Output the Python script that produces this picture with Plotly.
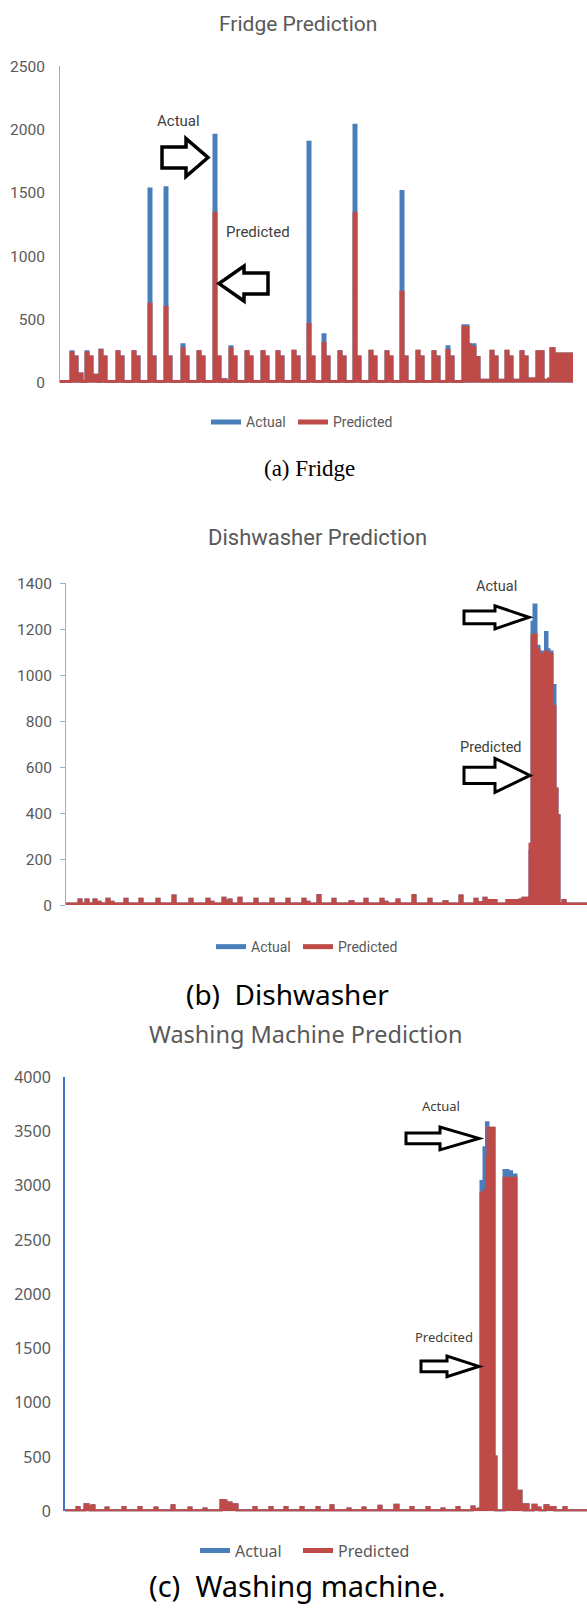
import plotly.graph_objects as go

W, H = 587, 1611

# ---------------- Fridge (x = time index, y = watts) ----------------
fridge_t = [60,
            71, 73, 77, 82, 86, 88, 92, 98,
            100, 102, 106, 117, 119, 123, 133, 135, 139,
            149, 151, 155, 165, 167, 171, 182, 184, 188,
            198, 200, 204, 214, 216, 220, 222, 226,
            230, 232, 236, 246, 248, 252, 262, 264, 268,
            277, 279, 283, 293, 295, 299, 308, 310, 314,
            323, 325, 329, 339, 341, 345, 354, 356, 360,
            370, 372, 376, 386, 388, 392, 401, 403, 407,
            417, 419, 423, 433, 435, 439, 447, 449, 453,
            463, 468, 470, 473, 475, 479,
            491, 493, 497, 506, 508, 512, 521, 523, 527,
            530, 537, 539, 541, 543, 549,
            551, 554, 573]
fridge_actual = [10,
                 245, 205, 70, 10, 245, 205, 60, 10,
                 260, 205, 10, 245, 205, 10, 245, 205, 10,
                 1530, 205, 10, 1540, 205, 10, 300, 205, 10,
                 245, 205, 10, 1955, 205, 10, 25, 10,
                 285, 205, 10, 245, 205, 10, 245, 205, 10,
                 245, 205, 10, 250, 205, 10, 1900, 205, 10,
                 380, 205, 10, 245, 205, 10, 2035, 205, 10,
                 250, 205, 10, 245, 205, 10, 1510, 205, 10,
                 250, 205, 10, 245, 205, 10, 285, 205, 10,
                 450, 300, 250, 300, 200, 20,
                 250, 205, 20, 250, 205, 20, 245, 205, 20,
                 30, 245, 40, 245, 20, 30,
                 270, 227, 227]
fridge_pred = [10,
               235, 205, 70, 10, 235, 205, 60, 10,
               255, 205, 10, 245, 205, 10, 245, 205, 10,
               620, 205, 10, 597, 205, 10, 270, 205, 10,
               245, 205, 10, 1340, 205, 10, 25, 10,
               270, 205, 10, 245, 205, 10, 245, 205, 10,
               245, 205, 10, 250, 205, 10, 460, 205, 10,
               310, 205, 10, 245, 205, 10, 1340, 205, 10,
               250, 205, 10, 245, 205, 10, 715, 205, 10,
               250, 205, 10, 245, 205, 10, 255, 205, 10,
               440, 300, 250, 280, 200, 20,
               250, 205, 20, 250, 205, 20, 245, 205, 20,
               30, 245, 40, 245, 20, 30,
               270, 227, 227]
fridge_ticks = [0, 500, 1000, 1500, 2000, 2500]

# ---------------- Dishwasher ----------------
dish_t = [66,
          79, 81, 86, 88, 94, 96, 100, 107, 109, 113, 125, 127, 140, 142, 157, 159, 173, 175, 190, 192,
          207, 209, 213, 223, 225, 229, 231, 239, 241, 255, 257, 271, 273, 287, 289, 303, 305, 309,
          318, 320, 333, 335, 350, 353, 365, 367, 381, 383, 387, 397, 399, 413, 415, 429, 431, 444, 447,
          460, 462, 475, 477, 484, 486, 491, 496, 507, 520, 523, 526, 528,
          530, 532, 534, 536, 539, 541.5, 544, 545.5, 547, 549, 552, 555, 557, 559, 563, 565, 587]
dish_actual = [5,
               22, 5, 22, 5, 22, 12, 5, 26, 12, 5, 26, 5, 26, 5, 26, 5, 40, 5, 26, 5,
               26, 12, 5, 30, 15, 22, 5, 30, 5, 26, 5, 26, 5, 26, 5, 26, 12, 5,
               42, 5, 26, 5, 15, 5, 26, 5, 26, 12, 5, 22, 5, 42, 5, 26, 5, 15, 5,
               40, 5, 26, 10, 30, 20, 20, 5, 20, 22, 30, 20, 30,
               235, 1230, 1305, 1125, 1100, 255, 1100, 1185, 1110, 1100, 955, 505, 390, 5, 20, 5, 5]
dish_pred = [5,
             22, 5, 22, 5, 22, 12, 5, 26, 12, 5, 26, 5, 26, 5, 26, 5, 40, 5, 26, 5,
             26, 12, 5, 30, 15, 22, 5, 30, 5, 26, 5, 26, 5, 26, 5, 26, 12, 5,
             42, 5, 26, 5, 15, 5, 26, 5, 26, 12, 5, 22, 5, 42, 5, 26, 5, 15, 5,
             40, 5, 26, 10, 30, 20, 20, 5, 20, 22, 30, 20, 30,
             265, 1170, 1175, 1110, 1090, 265, 1080, 1100, 1095, 1090, 865, 505, 390, 5, 20, 5, 5]
dish_ticks = [0, 200, 400, 600, 800, 1000, 1200, 1400]

# ---------------- Washing machine ----------------
wash_t = [65,
          77, 79, 85, 88, 90, 92, 94, 106, 108, 123, 125, 139, 141, 155, 157, 172, 174, 189, 191, 204, 206,
          221, 224, 226, 229, 231, 234, 237, 254, 256, 270, 272, 285, 287, 301, 303, 317, 319, 331, 333,
          348, 350, 363, 365, 379, 381, 395, 398, 411, 413, 427, 429, 442, 444, 457, 459, 472, 474, 479,
          481, 484, 486.5, 488, 494, 496, 504, 508, 509, 511.5, 516, 521, 524, 526, 528, 533, 536, 540,
          545, 548, 552, 555, 564, 566, 587]
wash_actual = [5,
               35, 5, 60, 40, 5, 50, 5, 30, 5, 35, 5, 35, 5, 30, 5, 50, 5, 30, 5, 20, 5,
               100, 95, 40, 75, 40, 60, 5, 35, 5, 35, 5, 35, 5, 35, 5, 35, 5, 50, 5,
               20, 5, 30, 5, 45, 5, 55, 5, 35, 5, 35, 5, 20, 5, 35, 5, 40, 15, 20,
               3040, 3350, 3580, 3530, 500, 5, 3140, 2900, 3130, 3100, 185, 60, 5, 60, 5, 55, 30, 5,
               50, 30, 35, 5, 35, 5, 5]
wash_pred = [5,
             35, 5, 60, 40, 5, 50, 5, 30, 5, 35, 5, 35, 5, 30, 5, 50, 5, 30, 5, 20, 5,
             100, 95, 40, 75, 40, 60, 5, 35, 5, 35, 5, 35, 5, 35, 5, 35, 5, 50, 5,
             20, 5, 30, 5, 45, 5, 55, 5, 35, 5, 35, 5, 20, 5, 35, 5, 40, 15, 20,
             2930, 2950, 3250, 3530, 500, 5, 3070, 3070, 3070, 3070, 185, 60, 5, 60, 5, 55, 30, 5,
             50, 30, 35, 5, 35, 5, 5]
wash_ticks = [0, 500, 1000, 1500, 2000, 2500, 3000, 3500, 4000]

series_names = ["Actual", "Predicted"]

assert len(fridge_t) == len(fridge_actual) == len(fridge_pred)
assert len(dish_t) == len(dish_actual) == len(dish_pred)
assert len(wash_t) == len(wash_actual) == len(wash_pred)

BLUE = "#4a7ebb"
RED = "#be4b48"
GREY = "#595959"
COND = "Roboto, Lato, sans-serif"
SANS = "Noto Sans, DejaVu Sans, sans-serif"


def px(x):
    return x / W


def py(y):
    return 1 - y / H


fig = go.Figure()

panels = [
    ("x", "y", "legend", fridge_t, fridge_actual, fridge_pred, (42, 80)),
    ("x2", "y2", "legend2", dish_t, dish_actual, dish_pred, (42, 80)),
    ("x3", "y3", "legend3", wash_t, wash_actual, wash_pred, (58, 90)),
]
for xa, ya, lg, t, a, p, lw in panels:
    for name, vals, col in ((series_names[0], a, BLUE), (series_names[1], p, RED)):
        fig.add_trace(go.Scatter(x=t, y=vals, mode="lines", line=dict(color=col, width=3, shape="hv"),
                                 fill="tozeroy", fillcolor=col, name=name, showlegend=False,
                                 xaxis=xa, yaxis=ya, hoverinfo="skip"))
    for name, col, w in ((series_names[0], BLUE, lw[0]), (series_names[1], RED, lw[1])):
        fig.add_trace(go.Scatter(x=[None], y=[None], mode="lines", line=dict(color=col, width=5),
                                 name=name, showlegend=True, legend=lg, legendwidth=w,
                                 xaxis=xa, yaxis=ya))

hidden_x = dict(showline=False, showticklabels=False, showgrid=False, zeroline=False, ticks="")
legend_common = dict(orientation="h", xanchor="left", yanchor="middle", bgcolor="rgba(0,0,0,0)")

fig.update_layout(
    width=W, height=H, margin=dict(l=0, r=0, t=0, b=0),
    paper_bgcolor="white", plot_bgcolor="white", showlegend=True,
    xaxis=dict(domain=[px(60), px(573)], range=[60, 573], anchor="y", **hidden_x),
    yaxis=dict(domain=[py(377), py(56)], range=[0, 2500], anchor="x", tickvals=fridge_ticks,
               showgrid=False, zeroline=False, showline=True, linecolor="#8fb3e0", linewidth=1,
               ticks="", ticklabelstandoff=11, tickfont=dict(family=COND, size=15.5, color=GREY)),
    xaxis2=dict(domain=[px(66), 1], range=[66, 587], anchor="y2", **hidden_x),
    yaxis2=dict(domain=[py(906.5), py(580)], range=[0, 1400], anchor="x2", tickvals=dish_ticks,
                showgrid=False, zeroline=False, showline=True, linecolor="#8fb3e0", linewidth=1,
                ticks="outside", ticklen=5, tickcolor="#8fb3e0", ticklabelstandoff=5,
                tickfont=dict(family=COND, size=15.5, color=GREY)),
    xaxis3=dict(domain=[px(65), 1], range=[65, 587], anchor="y3", **hidden_x),
    yaxis3=dict(domain=[py(1521), py(1081)], range=[0, 4000], anchor="x3", tickvals=wash_ticks,
                showgrid=False, zeroline=False, showline=True, linecolor="#4472c4", linewidth=2,
                ticks="", ticklabelstandoff=9, tickfont=dict(family=SANS, size=16, color=GREY)),
    legend=dict(x=px(206), y=py(417), font=dict(family=COND, size=14, color=GREY), **legend_common),
    legend2=dict(x=px(211), y=py(949), font=dict(family=COND, size=14, color=GREY), **legend_common),
    legend3=dict(x=px(195), y=py(1561), font=dict(family=SANS, size=16, color=GREY), **legend_common),
)

ann = []


def text(x, y, s, family, size, color, yref="paper"):
    yy = py(y) if yref == "paper" else y
    ann.append(dict(x=px(x), y=yy, xref="paper", yref=yref, text=s, showarrow=False,
                    xanchor="center", yanchor="middle", font=dict(family=family, size=size, color=color)))


# titles
text(298, 13, "Fridge Prediction", COND, 21, GREY)
text(317, 534, "Dishwasher Prediction", COND, 22, GREY)
text(306, 1037, "Washing Machine Prediction", SANS, 23.5, GREY)
# captions
text(309, 464, "(a) Fridge", "Liberation Serif, Times New Roman, serif", 23, "black")
text(287, 997, "(b)  Dishwasher", SANS, 28, "black")
text(297, 1596, "(c)  Washing machine.", SANS, 29, "black")
# callouts (y in data units of each panel)
text(178, 2065, "Actual", COND, 15, "#404040", "y")
text(258, 1193, "Predicted", COND, 15, "#404040", "y")
text(496, 1383, "Actual", COND, 14.5, "#404040", "y2")
text(491, 687, "Predicted", COND, 14.5, "#404040", "y2")
text(441, 3739, "Actual", SANS, 13, "#404040", "y3")
text(444, 1607, "Predcited", SANS, 13, "#404040", "y3")
fig.update_layout(annotations=ann)


def arrow(x0, xh, x1, yc, hs, hh, yref, lw=3.5):
    pts = [(x0, yc - hs), (xh, yc - hs), (xh, yc - hh), (x1, yc), (xh, yc + hh), (xh, yc + hs), (x0, yc + hs)]
    d = "M " + " L ".join(f"{px(a):.5f},{b:.2f}" for a, b in pts) + " Z"
    fig.add_shape(type="path", path=d, xref="paper", yref=yref,
                  line=dict(color="black", width=lw), fillcolor="white")


arrow(162, 186, 208, 1779, 83, 150, "y")
arrow(268, 244, 219, 784, 83, 138, "y")
arrow(464, 495, 529, 1251, 28, 50, "y2", 3)
arrow(464, 495, 530, 564, 35, 74, "y2", 3)
arrow(406, 440, 479, 3436, 50, 105, "y3", 3)
arrow(421, 447, 479, 1335, 50, 95, "y3", 3)

fig.write_html("out.html", config={"displayModeBar": False},
               post_script="document.body.style.margin='0';document.documentElement.style.overflow='hidden';")
